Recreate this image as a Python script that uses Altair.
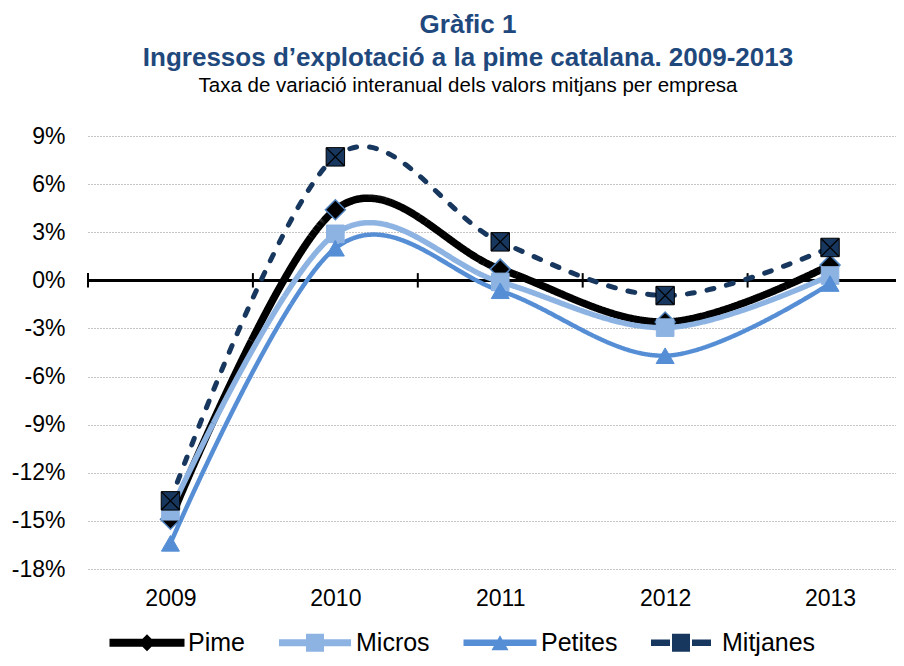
import altair as alt
import pandas as pd

years = [2009, 2010, 2011, 2012, 2013]
series = ["Pime", "Micros", "Petites", "Mitjanes"]
pime = [-14.9, 4.4, 0.7, -2.6, 0.95]
micros = [-14.4, 2.9, -0.1, -2.95, 0.3]
petites = [-16.4, 2.0, -0.65, -4.7, -0.2]
mitjanes = [-13.75, 7.7, 2.4, -0.95, 2.05]
y_ticks = [-18, -15, -12, -9, -6, -3, 0, 3, 6, 9]

values = {"Pime": pime, "Micros": micros, "Petites": petites, "Mitjanes": mitjanes}
rows = []
for s in series:
    for yr, v in zip(years, values[s]):
        rows.append({"series": s, "year": yr, "value": v})
df = pd.DataFrame(rows)
bounds_df = pd.DataFrame({"b": [y - 0.5 for y in years]})

FONT = "Liberation Sans"
colors = ["#000000", "#8DB3E2", "#558ED5", "#17375E"]
line_w = [7.5, 5.5, 4.5, 5]
dashes = [[1, 0], [1, 0], [1, 0], [7, 13]]
caps = ["butt", "butt", "butt", "round"]

xs = alt.Scale(domain=[2008.5, 2013.4], nice=False, zero=False)
ys = alt.Scale(domain=[-18, 9], nice=False, zero=False)

x_axis = alt.Axis(values=years, format="d", ticks=False, domain=False, grid=False,
                  labelFontSize=23, labelFont=FONT, labelColor="black", labelPadding=18, title=None)
y_axis = alt.Axis(values=y_ticks, labelExpr="datum.value + '%'", ticks=False, domain=False,
                  grid=True, gridDash=[1, 2], gridColor="#8c8c8c", gridWidth=1,
                  labelFontSize=23, labelFont=FONT, labelColor="black", labelPadding=23, title=None)

X = alt.X("year:Q", scale=xs, axis=x_axis)
Y = alt.Y("value:Q", scale=ys, axis=y_axis)

layers = []
# zero line
layers.append(alt.Chart(df).mark_rule(color="black", strokeWidth=2.5).encode(y=alt.datum(0)))
# category boundary ticks
layers.append(alt.Chart(bounds_df).mark_rule(color="black", strokeWidth=2).encode(
    x=alt.X("b:Q", scale=xs, axis=x_axis), y=alt.datum(0.45), y2=alt.datum(-0.45)))

for i, s in enumerate(series):
    d = df[df.series == s]
    layers.append(alt.Chart(d).mark_line(interpolate="cardinal", color=colors[i],
                                         strokeWidth=line_w[i], strokeDash=dashes[i],
                                         strokeCap=caps[i]).encode(x=X, y=Y))

marker = {
    "Pime": dict(shape="diamond", size=400, fill="#000000", stroke="#4F81BD", strokeWidth=1.5),
    "Micros": dict(shape="square", size=310, fill="#8DB3E2", stroke="#8DB3E2", strokeWidth=1),
    "Petites": dict(shape="triangle-up", size=324, fill="#558ED5", stroke="#558ED5", strokeWidth=1),
    "Mitjanes": dict(shape="square", size=340, fill="#17375E", stroke="#000000", strokeWidth=1),
}
for s in series:
    d = df[df.series == s]
    m = marker[s]
    layers.append(alt.Chart(d).mark_point(filled=True, opacity=1, **m).encode(x=X, y=Y))
layers.append(alt.Chart(df[df.series == "Mitjanes"]).mark_point(
    shape="M-1,-1L1,1M-1,1L1,-1", filled=False, size=300, stroke="black", strokeWidth=1.2, opacity=1
).encode(x=X, y=Y))

# legend symbols (line + marker) as custom paths
k = 10.0
def R(x0, x1, h):
    return f"M{x0/k:.3f},{-h/2/k:.3f}L{x1/k:.3f},{-h/2/k:.3f}L{x1/k:.3f},{h/2/k:.3f}L{x0/k:.3f},{h/2/k:.3f}Z"
def D(r):
    return f"M0,{-r/k:.3f}L{r/k:.3f},0L0,{r/k:.3f}L{-r/k:.3f},0Z"
def T(w, h):
    return f"M0,{-h/2/k:.3f}L{w/2/k:.3f},{h/2/k:.3f}L{-w/2/k:.3f},{h/2/k:.3f}Z"
paths = [
    R(-37.5, 37.5, 8) + D(8.5),
    R(-36, 36, 7) + R(-9, 9, 18),
    R(-36.5, 36.5, 6.5) + T(17, 15),
    R(-30, -11, 6.5) + R(11, 30, 6.5) + R(-9, 9, 18),
]
leg = alt.Legend(orient="none", legendX=46.5, legendY=494, direction="horizontal", title=None,
                 symbolSize=k * k * 4, symbolOpacity=1, symbolStrokeWidth=0,
                 labelFontSize=25, labelFont=FONT, labelColor="black", labelOffset=28.5,
                 columnPadding=33, padding=0)
layers.append(alt.Chart(df).mark_point(filled=True, opacity=0).encode(
    x=X, y=Y,
    color=alt.Color("series:N", scale=alt.Scale(domain=series, range=colors), legend=leg),
    shape=alt.Shape("series:N", scale=alt.Scale(domain=series, range=paths), legend=leg),
))

chart = alt.layer(*layers).properties(
    width=808, height=433,
    autosize=alt.AutoSizeParams(type="none"),
    padding={"left": 80, "top": 128, "right": 0, "bottom": 89},
    title=alt.TitleParams(
        text=["Gràfic 1", "Ingressos d’explotació a la pime catalana. 2009-2013"],
        subtitle="Taxa de variació interanual dels valors mitjans per empresa",
        font=FONT, fontSize=26, fontWeight="bold", color="#1F497D", lineHeight=33,
        subtitleFont=FONT, subtitleFontSize=20.5, subtitleColor="black", subtitlePadding=5,
        anchor="middle", frame="group", dx=-24, offset=29,
    ),
).configure_view(strokeWidth=0)

chart.save("out.html", embed_options={"renderer": "svg", "actions": False})
